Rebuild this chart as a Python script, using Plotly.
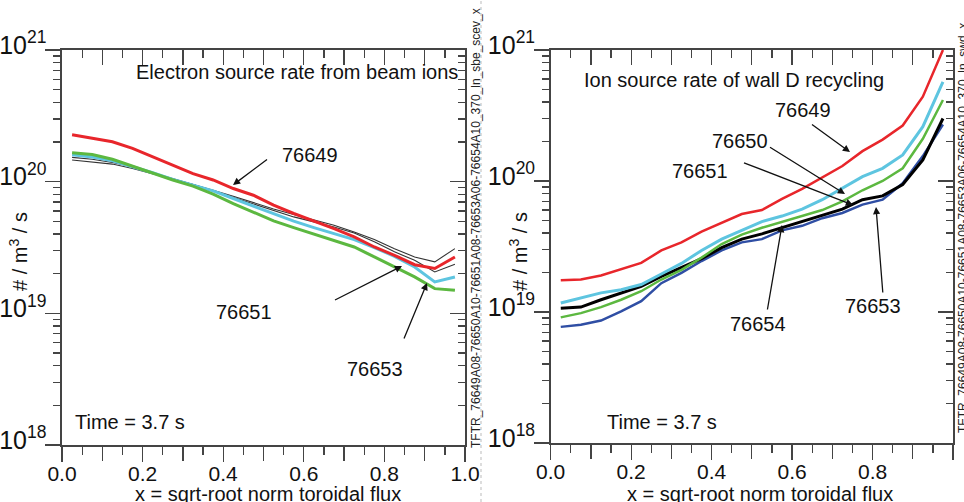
import plotly.graph_objects as go

W, H = 964, 502
FONT = "Liberation Sans, Arial, sans-serif"

# ---------------- data ----------------
x_rho = [0.025, 0.075, 0.125, 0.175, 0.225, 0.275, 0.325, 0.375, 0.425, 0.475,
         0.525, 0.575, 0.625, 0.675, 0.725, 0.775, 0.825, 0.875, 0.925, 0.975]

# Left panel: electron source rate from beam ions
beam_76649 = [2.27e20, 2.15e20, 2.01e20, 1.79e20, 1.54e20, 1.34e20, 1.15e20, 1.03e20, 8.87e19, 7.89e19,
              6.63e19, 5.73e19, 5.04e19, 4.40e19, 3.81e19, 3.19e19, 2.76e19, 2.34e19, 2.19e19, 2.68e19]
beam_76650 = [1.60e20, 1.54e20, 1.44e20, 1.30e20, 1.17e20, 1.04e20, 9.40e19, 8.51e19, 7.45e19, 6.51e19,
              5.66e19, 5.01e19, 4.48e19, 4.04e19, 3.63e19, 3.16e19, 2.71e19, 2.25e19, 1.73e19, 1.89e19]
beam_76651 = [1.66e20, 1.61e20, 1.48e20, 1.31e20, 1.17e20, 1.03e20, 9.25e19, 8.04e19, 6.82e19, 5.90e19,
              5.04e19, 4.48e19, 3.99e19, 3.59e19, 3.19e19, 2.68e19, 2.25e19, 1.89e19, 1.54e19, 1.50e19]
beam_76653 = [1.53e20, 1.48e20, 1.40e20, 1.30e20, 1.17e20, 1.06e20, 9.57e19, 8.61e19, 7.76e19, 6.90e19,
              6.21e19, 5.63e19, 5.16e19, 4.67e19, 4.15e19, 3.63e19, 3.10e19, 2.68e19, 2.46e19, 3.10e19]
beam_76654 = [1.46e20, 1.41e20, 1.36e20, 1.26e20, 1.15e20, 1.05e20, 9.52e19, 8.51e19, 7.58e19, 6.74e19,
              6.00e19, 5.40e19, 4.95e19, 4.53e19, 4.08e19, 3.49e19, 2.93e19, 2.53e19, 2.06e19, 2.36e19]

# Right panel: ion source rate of wall D recycling
wall_76649 = [1.75e19, 1.77e19, 1.90e19, 2.13e19, 2.37e19, 2.95e19, 3.40e19, 4.10e19, 4.80e19, 5.60e19,
              6.00e19, 7.30e19, 8.70e19, 1.06e20, 1.30e20, 1.69e20, 2.07e20, 2.65e20, 4.40e20, 1.00e21]
wall_76650 = [1.17e19, 1.28e19, 1.40e19, 1.48e19, 1.62e19, 1.95e19, 2.35e19, 2.95e19, 3.60e19, 4.20e19,
              4.90e19, 5.40e19, 6.10e19, 7.20e19, 8.80e19, 1.08e20, 1.25e20, 1.58e20, 2.60e20, 5.70e20]
wall_76651 = [9.10e18, 9.80e18, 1.09e19, 1.24e19, 1.44e19, 1.77e19, 2.10e19, 2.60e19, 3.30e19, 3.90e19,
              4.40e19, 4.90e19, 5.40e19, 6.00e19, 7.00e19, 8.50e19, 1.00e20, 1.25e20, 2.10e20, 4.15e20]
wall_76654 = [1.07e19, 1.09e19, 1.24e19, 1.40e19, 1.57e19, 1.87e19, 2.17e19, 2.55e19, 3.10e19, 3.60e19,
              3.95e19, 4.40e19, 4.90e19, 5.50e19, 6.10e19, 7.20e19, 7.70e19, 9.40e19, 1.45e20, 3.00e20]
wall_76653 = [7.70e18, 8.00e18, 8.60e18, 1.01e19, 1.21e19, 1.66e19, 1.99e19, 2.45e19, 2.95e19, 3.40e19,
              3.60e19, 4.20e19, 4.55e19, 5.20e19, 5.70e19, 6.60e19, 7.20e19, 9.60e19, 1.55e20, 2.70e20]

x_labelvals = [0.0, 0.2, 0.4, 0.6, 0.8, 1.0]
x_labeltext = ["0.0", "0.2", "0.4", "0.6", "0.8", "1.0"]
x_midvals = [0.1, 0.3, 0.5, 0.7, 0.9]
x_minorvals = [0.05, 0.15, 0.25, 0.35, 0.45, 0.55, 0.65, 0.75, 0.85, 0.95]

RED, CYAN, GREEN, BLUE, BLACK = "#e8262b", "#5ec5e0", "#5cb840", "#2f4ea4", "#000000"

fig = go.Figure()

left = [(beam_76653, "#333333", 1.1), (beam_76654, "#333333", 1.1),
        (beam_76650, CYAN, 3), (beam_76651, GREEN, 3), (beam_76649, RED, 3)]
for ys, c, w in left:
    fig.add_trace(go.Scatter(x=x_rho, y=ys, mode="lines", line=dict(color=c, width=w),
                             xaxis="x", yaxis="y", showlegend=False, hoverinfo="skip"))

right = [(wall_76653, BLUE, 2.5), (wall_76654, BLACK, 3), (wall_76651, GREEN, 2.5),
         (wall_76650, CYAN, 3), (wall_76649, RED, 2.5)]
for ys, c, w in right:
    fig.add_trace(go.Scatter(x=x_rho, y=ys, mode="lines", line=dict(color=c, width=w),
                             xaxis="x2", yaxis="y2", showlegend=False, hoverinfo="skip"))

AX = "#444444"
LW = 1.6
TW = 1.3


def xax(domain, anchor, side="bottom", ticks="outside", labels=True, overlay=None, mid=False):
    if mid:
        tv, tt = x_midvals, None
    else:
        tv, tt = x_labelvals, x_labeltext
    d = dict(domain=domain, anchor=anchor, side=side, range=[0, 1], tickmode="array",
             tickvals=tv, ticks=ticks, ticklen=15, tickwidth=TW,
             tickcolor=AX, showgrid=False, zeroline=False, showticklabels=labels,
             tickfont=dict(family=FONT, size=21, color="#111"), automargin=False,
             ticklabelstandoff=-6, fixedrange=True)
    if tt is not None:
        d["ticktext"] = tt
    if not mid:
        d["minor"] = dict(tickmode="array", tickvals=x_minorvals, ticks=ticks, ticklen=8,
                          tickwidth=TW, tickcolor=AX, showgrid=False)
    if overlay:
        d.update(overlaying=overlay, showline=False)
    else:
        d.update(showline=True, linecolor=AX, linewidth=LW, mirror=True)
    return d


def yax(domain, anchor, side="left", ticks="outside", labels=True, overlay=None):
    d = dict(domain=domain, anchor=anchor, side=side, type="log", range=[18, 21], dtick=1,
             exponentformat="power", ticks=ticks, ticklen=15, tickwidth=TW, tickcolor=AX,
             showgrid=False, zeroline=False, showticklabels=labels, ticklabelshift=-5,
             ticklabelstandoff=-5,
             tickfont=dict(family=FONT, size=20, color="#111"), automargin=False,
             minor=dict(dtick="D1", ticks=ticks, ticklen=7, tickwidth=TW, tickcolor=AX,
                        showgrid=False),
             fixedrange=True)
    if overlay:
        d.update(overlaying=overlay, showline=False)
    else:
        d.update(showline=True, linecolor=AX, linewidth=LW, mirror=True)
    return d


yd_l = [1 - 445 / H, 1 - 50 / H]
yd_r = [1 - 443 / H, 1 - 50 / H]
xd_l = [62 / W, 465 / W]
xd_r = [550.7 / W, 953 / W]

fig.update_layout(
    width=W, height=H, margin=dict(l=0, r=0, t=0, b=0, autoexpand=False),
    paper_bgcolor="white", plot_bgcolor="white",
    font=dict(family=FONT, color="#111"),
    xaxis=xax(xd_l, "y"),
    yaxis=yax(yd_l, "x"),
    xaxis2=xax(xd_r, "y2"),
    yaxis2=yax(yd_r, "x2"),
    # mirrored inside ticks on top / right
    xaxis3=xax(xd_l, "y", side="top", ticks="inside", labels=False, overlay="x"),
    yaxis3=yax(yd_l, "x", side="right", ticks="inside", labels=False, overlay="y"),
    xaxis4=xax(xd_r, "y2", side="top", ticks="inside", labels=False, overlay="x2"),
    yaxis4=yax(yd_r, "x2", side="right", ticks="inside", labels=False, overlay="y2"),
    xaxis5=xax(xd_l, "y", side="top", ticks="inside", labels=False, overlay="x", mid=True),
    xaxis6=xax(xd_r, "y2", side="top", ticks="inside", labels=False, overlay="x2", mid=True),
    # long unlabeled ticks at odd tenths on the bottom
    xaxis7=xax(xd_l, "y", labels=False, overlay="x", mid=True),
    xaxis8=xax(xd_r, "y2", labels=False, overlay="x2", mid=True),
)

# invisible helper traces so the extra tick-only axes get drawn
for xa, ya in [("x3", "y3"), ("x4", "y4"), ("x5", "y"), ("x6", "y2"), ("x7", "y"), ("x8", "y2")]:
    fig.add_trace(go.Scatter(x=[None], y=[None], xaxis=xa, yaxis=ya, showlegend=False,
                             hoverinfo="skip"))


def P(x, y):
    return x / W, 1 - y / H


anns = []


def text(x, y, s, size=20, xanchor="center", angle=0, color="#111"):
    px, py = P(x, y)
    anns.append(dict(x=px, y=py, xref="paper", yref="paper", text=s, showarrow=False,
                     xanchor=xanchor, yanchor="middle", textangle=angle,
                     font=dict(family=FONT, size=size, color=color)))


def arrow(tail, tip):
    px, py = P(*tip)
    anns.append(dict(x=px, y=py, xref="paper", yref="paper", text=" ", showarrow=True,
                     ax=tail[0] - tip[0], ay=tail[1] - tip[1], arrowhead=2, arrowsize=1.1,
                     arrowwidth=1.3, arrowcolor="#111", font=dict(size=2)))


# left panel
text(460, 72, "Electron source rate from beam ions", xanchor="right")
text(310, 155, "76649")
arrow((269, 158), (233, 185))
text(244, 312, "76651")
arrow((333, 301), (402, 266))
text(375, 369, "76653")
arrow((403, 341), (427, 283))
text(73, 422, "Time = 3.7 s", xanchor="left")
text(18, 252, "# / m<sup>3</sup> / s", angle=-90)
text(268, 494, "x = sqrt-root norm toroidal flux", size=20)
text(476, 228, "TFTR_76649A08-76650A10-76651A08-76653A06-76654A10_370_ln_sbe_scev_x",
     size=12, angle=-90, color="#222")

# right panel
text(582, 80, "Ion source rate of wall D recycling", xanchor="left")
text(803, 110, "76649")
arrow((810, 123), (850, 152))
text(740, 141, "76650")
arrow((768, 146), (845, 194))
text(700, 171, "76651")
arrow((742, 162), (853, 205))
text(758, 324, "76654")
arrow((767, 312), (782, 225))
text(873, 306, "76653")
arrow((883, 295), (876, 207))
text(605, 422, "Time = 3.7 s", xanchor="left")
text(518, 252, "# / m<sup>3</sup> / s", angle=-90)
text(760, 494, "x = sqrt-root norm toroidal flux", size=20)
text(963, 228, "TFTR_76649A08-76650A10-76651A08-76653A06-76654A10_370_ln_swd_x",
     size=12, angle=-90, color="#222")

fig.update_layout(annotations=anns)

fig.add_shape(type="line", xref="paper", yref="paper", x0=481 / W, x1=481 / W, y0=0, y1=1,
              line=dict(color="#bbbbbb", width=1, dash="dot"))

fig.write_html("out.html", config={"displayModeBar": False, "staticPlot": True},
               post_script="document.body.style.margin='0px';document.body.style.padding='0px';")
